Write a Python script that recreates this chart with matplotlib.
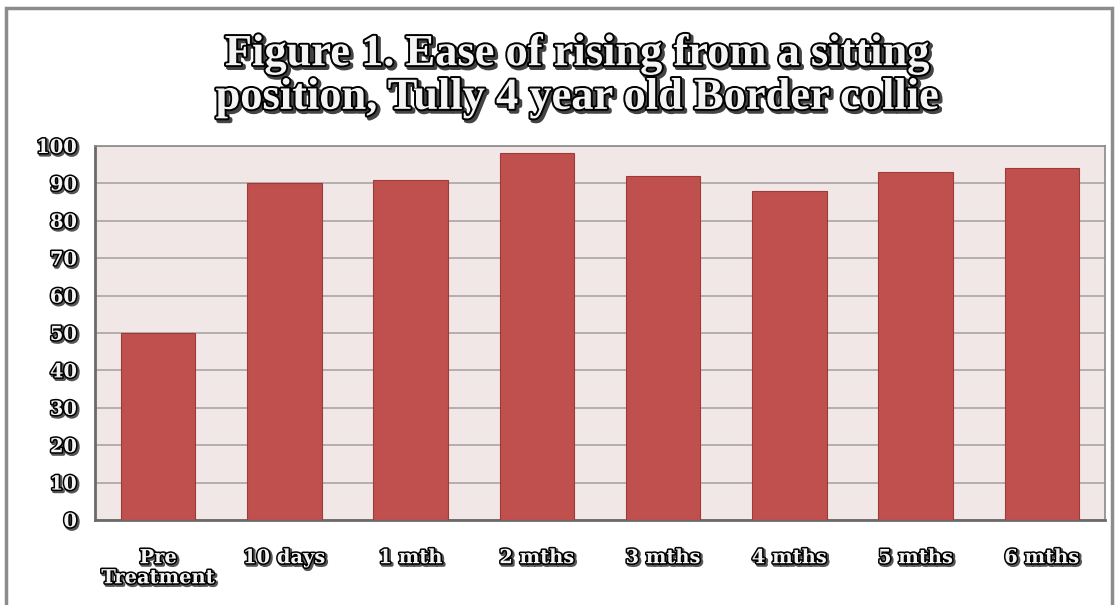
import matplotlib
matplotlib.use("Agg")
import matplotlib.pyplot as plt
import matplotlib.patheffects as pe
from matplotlib.patches import Rectangle

categories = ["Pre\nTreatment", "10 days", "1 mth", "2 mths", "3 mths", "4 mths", "5 mths", "6 mths"]
values = [50, 90, 91, 98, 92, 88, 93, 94]
yticks = [0, 10, 20, 30, 40, 50, 60, 70, 80, 90, 100]
title = "Figure 1. Ease of rising from a sitting\nposition, Tully 4 year old Border collie"

fig = plt.figure(figsize=(11.15, 6.05), dpi=100)
fig.patch.set_facecolor("white")
ax = fig.add_axes([95/1115, 1 - 520/605, 1010/1115, 374/605])

fx = [pe.Stroke(linewidth=2.8, foreground="#555555", offset=(1.2, -1.2)),
      pe.Stroke(linewidth=2.2, foreground="black"), pe.Normal()]

x = list(range(len(categories)))
ax.bar(x, values, width=0.59, color="#C0504D", edgecolor="#9E3B38", linewidth=0.8, zorder=3)
ax.set_xlim(-0.5, len(categories) - 0.5)
ax.set_ylim(0, 100)
ax.set_facecolor("#F2E7E7")
ax.set_yticks(yticks)
ax.yaxis.grid(True, color="#B0AAAA", linewidth=1.3, zorder=0)
ax.set_axisbelow(True)
ax.set_xticks(x)
ax.set_xticklabels(categories, family="DejaVu Serif", fontweight="bold", fontsize=14,
                   color="#F4F4F4", path_effects=fx, linespacing=1.15)
ax.set_yticklabels([str(v) for v in yticks], family="DejaVu Serif", fontweight="bold",
                   fontsize=14, color="#F4F4F4", path_effects=fx)
ax.tick_params(axis="x", length=0, pad=21)
ax.tick_params(axis="y", length=0, pad=13)
for s in ["top", "right"]:
    ax.spines[s].set_color("#8A8A8A")
    ax.spines[s].set_linewidth(1.2)
for s in ["left", "bottom"]:
    ax.spines[s].set_color("#6A6A6A")
    ax.spines[s].set_linewidth(2)

fig.text(578/1115, 1 - 76/605, title, ha="center", va="center", family="Liberation Serif",
         fontweight="bold", fontsize=32, color="#F4F4F4",
         linespacing=1.12,
         path_effects=[pe.Stroke(linewidth=3.4, foreground="#444444", offset=(1.8, -1.8)),
                       pe.Stroke(linewidth=2.8, foreground="black"), pe.Normal()])

fig.patches.append(Rectangle((6/1115, -0.01), 1106/1115, 1 - 8/605 + 0.01,
                             transform=fig.transFigure, fill=False,
                             edgecolor="#8C8C8C", linewidth=2.5))

fig.savefig("out.png", dpi=100)
